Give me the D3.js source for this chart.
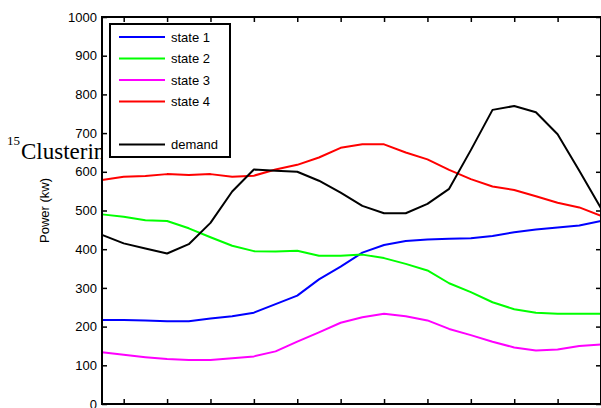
<!DOCTYPE html>
<html><head><meta charset="utf-8">
<script src="https://cdn.jsdelivr.net/npm/d3@7/dist/d3.min.js"></script>
<style>body{margin:0;background:#fff}svg{display:block}</style>
</head><body><svg id="c" width="601" height="408"></svg>
<script>
const hours = d3.range(1, 25);
const state1 = [217,217,216,214,214,221,227,236,258,280,322,355,391,411,421,425,427,428,434,444,451,456,461,473];
const state2 = [490,484,475,473,454,431,409,395,394,396,383,383,386,377,362,345,312,289,263,245,236,233,233,233];
const state3 = [134,127,121,116,114,114,118,123,136,161,185,210,224,233,227,216,194,178,161,146,138,141,150,154];
const state4 = [579,587,589,594,592,594,587,590,606,618,637,662,671,671,650,632,605,581,562,553,537,520,508,486];
const demand = [437,415,402,389,413,468,549,606,603,600,577,546,512,493,493,517,556,656,760,770,754,697,603,506];
const seriesNames = ["state 1","state 2","state 3","state 4","","demand"];
const seriesColors = ["#0000ff","#00ff00","#ff00ff","#ff0000",null,"#000000"];
const xTicks = [2,4,6,8,10,12,14,16,18,20,22,24];
const yTicks = [0,100,200,300,400,500,600,700,800,900,1000];
const yLabel = "Power (kw)";
const strayText = "Clustering";
const straySup = "15";

const svg = d3.select("#c");
const L = 102, T = 17, R = 601, B = 404;
const x = d3.scaleLinear().domain([1, 24]).range([L, R]);
const y = d3.scaleLinear().domain([0, 1000]).range([B, T]);

// stray text behind plot
svg.append("text").attr("x", 7).attr("y", 145).attr("font-family", "Liberation Serif")
  .attr("font-size", 13).text(straySup);
svg.append("text").attr("x", 21).attr("y", 159).attr("font-family", "Liberation Serif")
  .attr("font-size", 23).text(strayText);

svg.append("rect").attr("x", L).attr("y", T).attr("width", R - L).attr("height", B - T).attr("fill", "#fff");

const font = "Liberation Sans, Arial, sans-serif";
const gl = svg.append("g").attr("transform", `translate(${L},0)`)
  .call(d3.axisLeft(y).tickValues(yTicks).tickFormat(d3.format("d")).tickSize(-5).tickPadding(5).tickSizeOuter(0));
gl.select(".domain").remove();
gl.selectAll("text").attr("font-family", font).attr("font-size", 13).attr("fill", "#000");
gl.selectAll("line").attr("stroke-width", 1.5);
const gr = svg.append("g").attr("transform", `translate(${R},0)`)
  .call(d3.axisRight(y).tickValues(yTicks).tickSize(-5).tickFormat("").tickSizeOuter(0));
gr.select(".domain").remove();
gr.selectAll("line").attr("stroke-width", 1.5);
const gt = svg.append("g").attr("transform", `translate(0,${T})`)
  .call(d3.axisTop(x).tickValues(xTicks).tickSize(-5).tickFormat("").tickSizeOuter(0));
gt.select(".domain").remove();
gt.selectAll("line").attr("stroke-width", 1.5);
const gb = svg.append("g").attr("transform", `translate(0,${B})`)
  .call(d3.axisBottom(x).tickValues(xTicks).tickSize(-5).tickFormat("").tickSizeOuter(0));
gb.select(".domain").remove();
gb.selectAll("line").attr("stroke-width", 1.5);

svg.append("text").attr("transform", `translate(49,${(T + B) / 2}) rotate(-90)`)
  .attr("text-anchor", "middle").attr("font-family", font).attr("font-size", 13).text(yLabel);

const line = d3.line().x((d, i) => x(hours[i])).y(d => y(d));
const data = [state1, state2, state3, state4, null, demand];
data.forEach((s, k) => {
  if (!s) return;
  svg.append("path").datum(s).attr("d", line).attr("fill", "none")
    .attr("stroke", seriesColors[k]).attr("stroke-width", 2).attr("stroke-linejoin", "round");
});

svg.append("rect").attr("x", L).attr("y", T).attr("width", R - L).attr("height", B - T)
  .attr("fill", "none").attr("stroke", "#000").attr("stroke-width", 2);

// legend
const lg = svg.append("g");
lg.append("rect").attr("x", 110).attr("y", 24).attr("width", 120).attr("height", 133)
  .attr("fill", "#fff").attr("stroke", "#000").attr("stroke-width", 2);
seriesNames.forEach((n, k) => {
  if (!n) return;
  const yy = 37 + k * 21.5;
  lg.append("line").attr("x1", 119).attr("x2", 165).attr("y1", yy).attr("y2", yy)
    .attr("stroke", seriesColors[k]).attr("stroke-width", 2);
  lg.append("text").attr("x", 171).attr("y", yy).attr("dy", "0.36em")
    .attr("font-family", font).attr("font-size", 13).text(n);
});
</script></body></html>
